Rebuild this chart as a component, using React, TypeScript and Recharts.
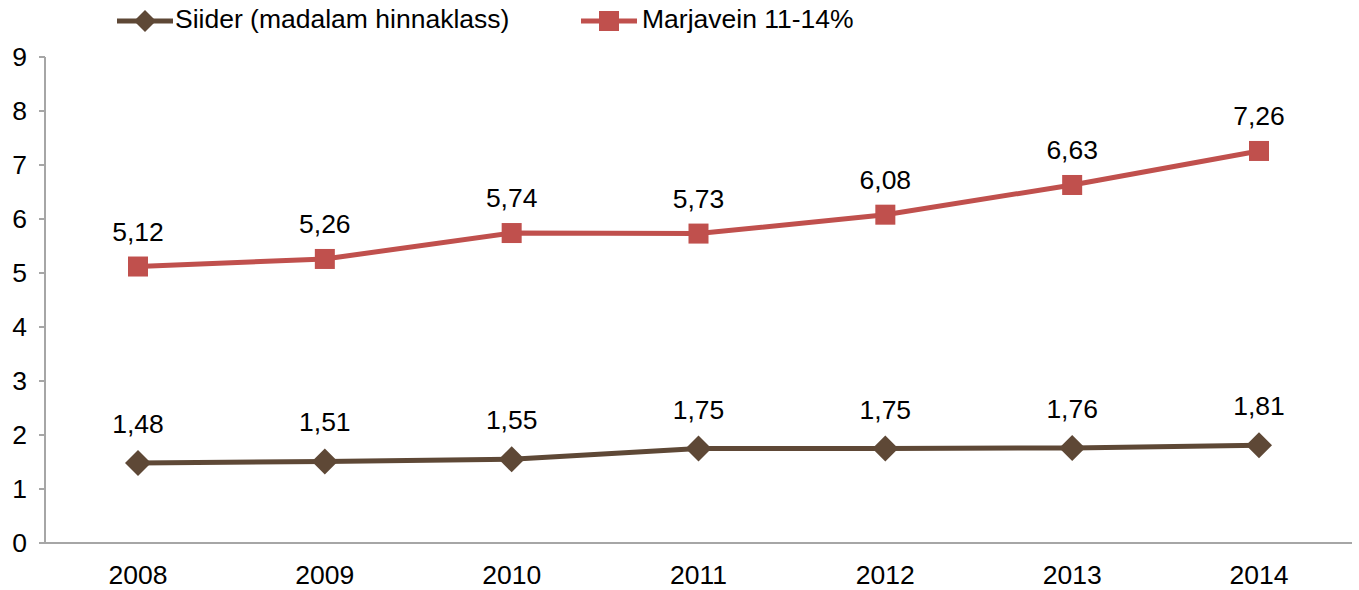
import React from "react";
import { LineChart, Line, XAxis, YAxis, LabelList, Legend } from "recharts";

const years = ["2008", "2009", "2010", "2011", "2012", "2013", "2014"];
const siider = [1.48, 1.51, 1.55, 1.75, 1.75, 1.76, 1.81];
const marjavein = [5.12, 5.26, 5.74, 5.73, 6.08, 6.63, 7.26];
const yTicks = [0, 1, 2, 3, 4, 5, 6, 7, 8, 9];

const BROWN = "#5e4836";
const RED = "#c0504d";
const AXIS = "#a6a6a6";
const FONT = "'Liberation Sans', Arial, sans-serif";
const FS = 26.5;

const data = years.map((y, i) => ({ year: y, siider: siider[i], marjavein: marjavein[i] }));

const fmt = (v: any) => String(v).replace(".", ",");

const Diamond = (props: any) => {
  const { cx, cy } = props;
  if (cx == null || cy == null) return null;
  const r = 13;
  return <path d={`M${cx},${cy - r}L${cx + r},${cy}L${cx},${cy + r}L${cx - r},${cy}Z`} fill={BROWN} />;
};
const Square = (props: any) => {
  const { cx, cy } = props;
  if (cx == null || cy == null) return null;
  const r = 10;
  return <rect x={cx - r} y={cy - r} width={2 * r} height={2 * r} fill={RED} />;
};

const LegendContent = () => (
  <div style={{ position: "relative", height: 40, fontFamily: FONT, fontSize: FS, color: "#000" }}>
    <svg style={{ position: "absolute", left: 116, top: 8 }} width={58} height={26}>
      <line x1={1} y1={13} x2={57} y2={13} stroke={BROWN} strokeWidth={5} />
      <path d="M29,2L40,13L29,24L18,13Z" fill={BROWN} />
    </svg>
    <span style={{ position: "absolute", left: 175, top: 4, whiteSpace: "nowrap" }}>Siider (madalam hinnaklass)</span>
    <svg style={{ position: "absolute", left: 580, top: 8 }} width={58} height={26}>
      <line x1={1} y1={13} x2={57} y2={13} stroke={RED} strokeWidth={5} />
      <rect x={19} y={3} width={20} height={20} fill={RED} />
    </svg>
    <span style={{ position: "absolute", left: 642, top: 4, whiteSpace: "nowrap" }}>Marjavein 11-14%</span>
  </div>
);

export default function App() {
  return (
    <div style={{ position: "absolute", left: 0, top: 0, background: "#fff" }}>
      <LineChart width={1359} height={590} data={data} margin={{ top: 17, right: 7, bottom: 0, left: 0 }}>
        <Legend
          verticalAlign="top"
          align="left"
          content={<LegendContent />}
          wrapperStyle={{ top: 0, left: 0, width: 1359, height: 40 }}
        />
        <XAxis
          dataKey="year"
          axisLine={{ stroke: AXIS, strokeWidth: 2 }}
          tickLine={false}
          tickMargin={16}
          height={47}
          padding={{ left: 93, right: 93 }}
          tick={{ fill: "#000", fontSize: FS, fontFamily: FONT }}
        />
        <XAxis
          xAxisId="top"
          dataKey="year"
          orientation="top"
          height={0}
          tick={false}
          tickLine={false}
          axisLine={{ stroke: AXIS, strokeWidth: 2 }}
        />
        <YAxis
          domain={[0, 9]}
          ticks={yTicks}
          width={45}
          axisLine={{ stroke: AXIS, strokeWidth: 2 }}
          tickLine={{ stroke: AXIS, strokeWidth: 2 }}
          tickSize={6}
          tickMargin={12}
          tick={{ fill: "#000", fontSize: FS, fontFamily: FONT }}
          interval={0}
        />
        <YAxis
          yAxisId="right"
          orientation="right"
          domain={[0, 9]}
          width={0}
          tick={false}
          tickLine={false}
          axisLine={{ stroke: AXIS, strokeWidth: 2 }}
        />
        <Line
          dataKey="siider"
          stroke={BROWN}
          strokeWidth={5}
          dot={<Diamond />}
          activeDot={false}
          isAnimationActive={false}
        >
          <LabelList dataKey="siider" position="top" offset={30} formatter={fmt} style={{ fill: "#000", fontSize: FS, fontFamily: FONT }} />
        </Line>
        <Line
          dataKey="marjavein"
          stroke={RED}
          strokeWidth={5}
          dot={<Square />}
          activeDot={false}
          isAnimationActive={false}
        >
          <LabelList dataKey="marjavein" position="top" offset={26} formatter={fmt} style={{ fill: "#000", fontSize: FS, fontFamily: FONT }} />
        </Line>
      </LineChart>
    </div>
  );
}
